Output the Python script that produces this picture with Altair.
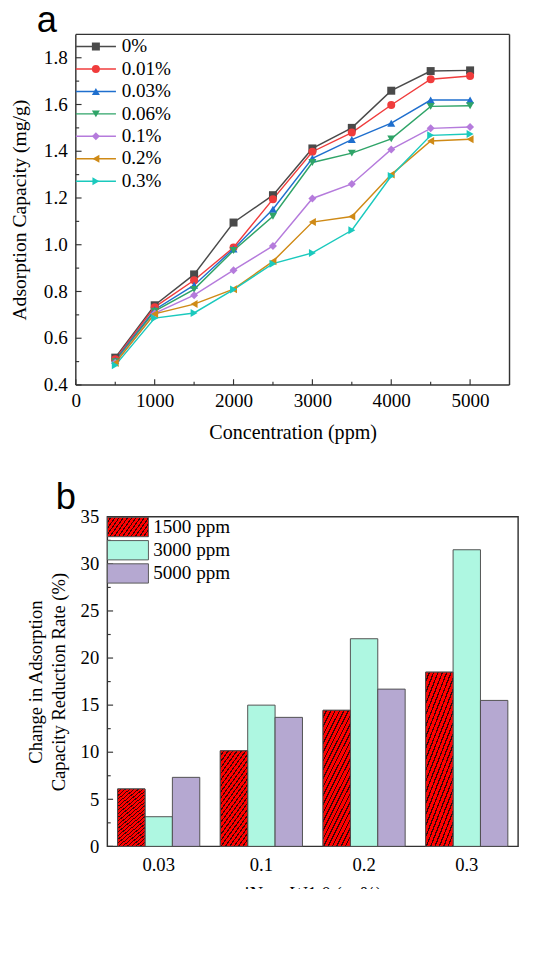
import altair as alt
import pandas as pd

# ---------------- data: panel a ----------------
conc = [500, 1000, 1500, 2000, 2500, 3000, 3500, 4000, 4500, 5000]
series_names = ["0%", "0.01%", "0.03%", "0.06%", "0.1%", "0.2%", "0.3%"]
v_0 = [0.517, 0.741, 0.873, 1.095, 1.212, 1.412, 1.500, 1.659, 1.743, 1.746]
v_001 = [0.510, 0.733, 0.848, 0.988, 1.195, 1.398, 1.480, 1.598, 1.708, 1.722]
v_003 = [0.505, 0.722, 0.827, 0.982, 1.152, 1.370, 1.450, 1.520, 1.619, 1.619]
v_006 = [0.500, 0.716, 0.809, 0.975, 1.122, 1.352, 1.392, 1.453, 1.592, 1.595]
v_01 = [0.495, 0.706, 0.784, 0.891, 0.995, 1.198, 1.260, 1.408, 1.498, 1.504]
v_02 = [0.494, 0.704, 0.746, 0.810, 0.929, 1.097, 1.121, 1.300, 1.444, 1.451]
v_03 = [0.484, 0.686, 0.708, 0.808, 0.919, 0.965, 1.062, 1.294, 1.468, 1.474]
series_values = [v_0, v_001, v_003, v_006, v_01, v_02, v_03]

x_major = [0, 1000, 2000, 3000, 4000, 5000]
x_minor = [500, 1500, 2500, 3500, 4500]
y_major = [0.4, 0.6, 0.8, 1.0, 1.2, 1.4, 1.6, 1.8]
y_minor = [0.5, 0.7, 0.9, 1.1, 1.3, 1.5, 1.7]

# ---------------- data: panel b ----------------
b_cats = ["0.03", "0.1", "0.2", "0.3"]
ppm_names = ["1500 ppm", "3000 ppm", "5000 ppm"]
r_1500 = [6.1, 10.15, 14.45, 18.5]
r_3000 = [3.15, 15.0, 22.05, 31.5]
r_5000 = [7.33, 13.7, 16.7, 15.5]
b_values = [r_1500, r_3000, r_5000]
yb_major = [0, 5, 10, 15, 20, 25, 30, 35]
yb_minor = [2.5, 7.5, 12.5, 17.5, 22.5, 27.5, 32.5]

# ---------------- styles ----------------
FONT = "Liberation Serif"
DARK = "#333333"
colors_a = ["#4a4a4a", "#f03c3c", "#1f6fce", "#2fa468", "#b57bdc", "#cf8a16", "#1ac9bd"]
shapes_a = ["square", "circle", "triangle-up", "triangle-down", "diamond",
            "triangle-left", "triangle-right"]
colors_b = ["#ff0000", "#aef7e1", "#b5a8d1"]
RED = "#ff0000"
HATCH = "#3a0606"

OFF = 33                      # panel a plot starts this many px left of panel b plot
W_A, H_A = 454 - OFF, 367     # group width of panel a (plot drawn from -OFF)
W_B, H_B = 430, 345

AX = dict(labelFont=FONT, labelColor="black", titleFont=FONT, titleColor="black",
          titleFontWeight="normal", ticks=False, domain=False, grid=False)

rows = []
for name, vals in zip(series_names, series_values):
    for c, v in zip(conc, vals):
        rows.append({"series": name, "conc": c, "cap": v})
df_a = pd.DataFrame(rows)

rows = []
for p, vals in zip(ppm_names, b_values):
    for c, v in zip(b_cats, vals):
        rows.append({"ppm": p, "cat": c, "val": v})
df_b = pd.DataFrame(rows)

leg_a_df = pd.DataFrame({"series": series_names})
leg_b_df = pd.DataFrame({"ppm": ppm_names})
one = pd.DataFrame({"k": [0]})


# ---------------- helpers ----------------
def xticks(vals, length, h):
    return alt.Chart(pd.DataFrame({"t": vals})).mark_rule(color=DARK, strokeWidth=1.2).encode(
        x=alt.X("t:Q"), y=alt.value(h), y2=alt.value(h - length))


def yticks(vals, length, x0=0):
    return alt.Chart(pd.DataFrame({"t": vals})).mark_rule(color=DARK, strokeWidth=1.2).encode(
        y=alt.Y("t:Q"), x=alt.value(x0), x2=alt.value(x0 + length))


def letter(txt, dx, dy):
    return alt.Chart(pd.DataFrame({"t": [txt]})).mark_text(
        font="Liberation Sans", fontSize=38, align="left", baseline="alphabetic",
        color="black").encode(text="t:N", x=alt.value(dx), y=alt.value(dy))


def spacer(dx, dy):
    return alt.Chart(one).mark_rule(opacity=0, strokeWidth=1).encode(
        x=alt.value(dx), x2=alt.value(dx + 2), y=alt.value(dy))


def hrule(x0, x1, y):
    return alt.Chart(one).mark_rule(color=DARK, strokeWidth=1.5).encode(
        x=alt.value(x0), x2=alt.value(x1), y=alt.value(y))


def vrule(x, y0, y1):
    return alt.Chart(one).mark_rule(color=DARK, strokeWidth=1.5).encode(
        x=alt.value(x), y=alt.value(y0), y2=alt.value(y1))


# ---------------- panel a ----------------
x_a = alt.X("conc:Q", scale=alt.Scale(domain=[0, 5500], nice=False, range=[-OFF, W_A]),
            axis=alt.Axis(values=x_major, title="Concentration (ppm)", format="d",
                          labelFlush=False, labelFontSize=20, titleFontSize=21,
                          labelPadding=7, titlePadding=12, **AX))
y_a = alt.Y("cap:Q", scale=alt.Scale(domain=[0.4, 1.9], nice=False, zero=False),
            axis=alt.Axis(values=y_major, title="Adsorption Capacity (mg/g)", format=".1f",
                          offset=OFF, labelFontSize=20, titleFontSize=20.5,
                          labelPadding=9, titlePadding=15, **AX))
color_a = alt.Color("series:N", scale=alt.Scale(domain=series_names, range=colors_a), legend=None)
shape_a = alt.Shape("series:N", scale=alt.Scale(domain=series_names, range=shapes_a), legend=None)

lines_a = alt.Chart(df_a).mark_line(strokeWidth=1.5).encode(x=x_a, y=y_a, color=color_a)
points_a = alt.Chart(df_a).mark_point(filled=True, size=70, opacity=1).encode(
    x=x_a, y=y_a, color=color_a, shape=shape_a)

layers_a = [
    lines_a, points_a,
    xticks(x_major, 6, H_A), xticks(x_minor, 3.5, H_A),
    yticks(y_major, 6, -OFF), yticks(y_minor, 3.5, -OFF),
    hrule(-OFF, W_A, 0), hrule(-OFF, W_A, H_A), vrule(-OFF, 0, H_A), vrule(W_A, 0, H_A),
    letter("a", -74, -3),
]
for i, name in enumerate(series_names):
    yy = 12.7 + 23.5 * i
    sub = alt.Chart(leg_a_df).transform_filter(alt.datum.series == name)
    layers_a.append(sub.mark_rule(strokeWidth=1.5, color=colors_a[i]).encode(
        x=alt.value(-OFF), x2=alt.value(-OFF + 42), y=alt.value(yy)))
    layers_a.append(sub.mark_point(filled=True, size=70, opacity=1, shape=shapes_a[i],
                                   color=colors_a[i]).encode(
        x=alt.value(-OFF + 21), y=alt.value(yy)))
    layers_a.append(sub.mark_text(font=FONT, fontSize=20, align="left", baseline="middle",
                                  color="black").encode(
        x=alt.value(-OFF + 48), y=alt.value(yy), text="series:N"))

panel_a = alt.layer(*layers_a).properties(
    width=W_A, height=H_A, view=alt.ViewBackground(stroke="transparent"))

# ---------------- panel b ----------------
N = 22
stops = []
for i in range(N):
    a0, a1, a2 = i / N, (i + 0.7) / N, (i + 1) / N
    stops += [alt.GradientStop(offset=a0, color=RED), alt.GradientStop(offset=a1, color=RED),
              alt.GradientStop(offset=a1, color=HATCH), alt.GradientStop(offset=a2, color=HATCH)]
hatch_grad = alt.LinearGradient(gradient="linear", stops=stops, x1=0, y1=0, x2=0.483, y2=1.207)

NL = 13
leg_stops = []
for i in range(NL):
    a0, a1, a2 = i / NL, (i + 0.7) / NL, (i + 1) / NL
    leg_stops += [alt.GradientStop(offset=a0, color=RED), alt.GradientStop(offset=a1, color=RED),
                  alt.GradientStop(offset=a1, color=HATCH), alt.GradientStop(offset=a2, color=HATCH)]
leg_grad = alt.LinearGradient(gradient="linear", stops=leg_stops, x1=0, y1=0, x2=1.2, y2=0.4)

x_b = alt.X("cat:N", scale=alt.Scale(domain=b_cats, paddingInner=0.2, paddingOuter=0.1),
            axis=alt.Axis(title="iNanoW1.0 (wt%)", labelAngle=0, labelFontSize=19.5,
                          titleFontSize=19.5, labelPadding=10, titlePadding=12, **AX))
xo_b = alt.XOffset("ppm:N", scale=alt.Scale(domain=ppm_names, paddingInner=0, paddingOuter=0))
y_b = alt.Y("val:Q", scale=alt.Scale(domain=[0, 35], nice=False),
            axis=alt.Axis(values=yb_major, title=["Change in Adsorption", "Capacity Reduction Rate (%)"],
                          labelFontSize=19.5, titleFontSize=19.5, titleLineHeight=24,
                          labelPadding=9, titlePadding=12, **AX))
color_b = alt.Color("ppm:N", scale=alt.Scale(domain=ppm_names, range=colors_b), legend=None)

bars_b = alt.Chart(df_b).mark_bar(stroke="#4d4d4d", strokeWidth=1, opacity=1).encode(
    x=x_b, xOffset=xo_b, y=y_b, color=color_b)

hatch_b = alt.Chart(df_b).transform_filter(alt.datum.ppm == "1500 ppm").mark_bar(
    color=hatch_grad, stroke="#4d4d4d", strokeWidth=1, opacity=1).encode(
    x=alt.X("cat:N"), xOffset=xo_b, y=alt.Y("val:Q"))

RECT = "M-1,-0.47H1V0.47H-1Z"
layers_b = [
    bars_b, hatch_b,
    yticks(yb_major, 6), yticks(yb_minor, 3.5),
    letter("b", -54, -8),
    spacer(-103, 150),
]
for i, name in enumerate(ppm_names):
    yy = 10.7 + 24.3 * i
    sub = alt.Chart(leg_b_df).transform_filter(alt.datum.ppm == name)
    layers_b.append(sub.mark_point(shape=RECT, size=1849, filled=True,
                                   color=(leg_grad if i == 0 else colors_b[i]),
                                   stroke="#555555", strokeWidth=1, opacity=1).encode(
        x=alt.value(21.5), y=alt.value(yy)))
    layers_b.append(sub.mark_text(font=FONT, fontSize=20, align="left", baseline="middle",
                                  color="black").encode(
        x=alt.value(48), y=alt.value(yy), text="ppm:N"))

panel_b = alt.layer(*layers_b).properties(width=W_B, height=H_B)

chart = alt.vconcat(panel_a, panel_b, spacing=38).resolve_scale(
    color="independent", shape="independent"
).properties(
    padding={"left": 0, "top": -27, "right": 0, "bottom": -36}
).configure_view(stroke=DARK, strokeWidth=1.5)

chart.save("out.html", embed_options={"renderer": "svg", "actions": False})
